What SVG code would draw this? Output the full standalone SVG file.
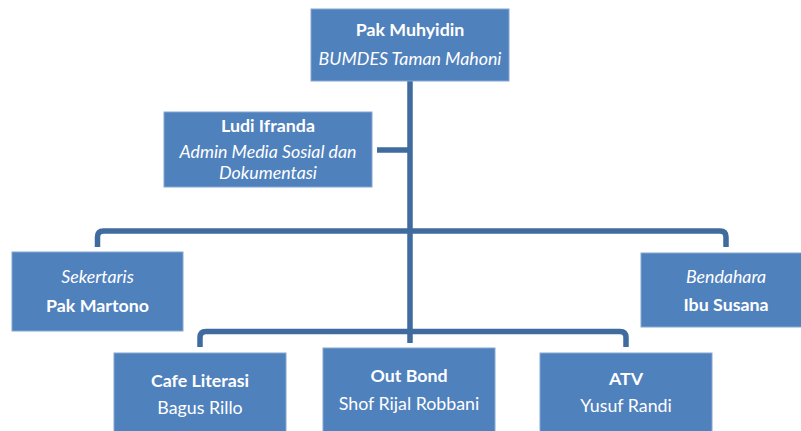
<svg xmlns="http://www.w3.org/2000/svg" width="801" height="431" viewBox="0 0 801 431">
<style>
.box{fill:#4F81BD;stroke:#86a7d2;stroke-width:1}
.t{font-family:Lato,"Liberation Sans",sans-serif;font-size:17.8px;fill:#ffffff;text-anchor:middle}
.b{font-weight:bold}
.i{font-style:italic}
.c{fill:none;stroke:#3F6B9E;stroke-width:5.5}
</style>
<rect width="801" height="431" fill="#ffffff"/>
<g id="connectors">
<path class="c" d="M410,81 V343"/>
<path class="c" d="M377,150 H410"/>
<path class="c" d="M97.5,247 V237 Q97.5,231 103.5,231 H720 Q726,231 726,237 V247"/>
<path class="c" d="M200,347 V337.5 Q200,331.5 206,331.5 H620 Q626,331.5 626,337.5 V347"/>
</g>
<g id="pak-muhyidin">
<rect class="box" x="311" y="9" width="198" height="72"/>
<text class="t b" x="410" y="36">Pak Muhyidin</text>
<text class="t i" x="410" y="65">BUMDES Taman Mahoni</text>
</g>
<g id="ludi-ifranda">
<rect class="box" x="164" y="112" width="208" height="75"/>
<text class="t b" x="268" y="132">Ludi Ifranda</text>
<text class="t i" x="268" y="158">Admin Media Sosial dan</text>
<text class="t i" x="268" y="179">Dokumentasi</text>
</g>
<g id="sekertaris">
<rect class="box" x="12" y="252" width="171" height="79"/>
<text class="t i" x="97.5" y="283">Sekertaris</text>
<text class="t b" x="97.5" y="312">Pak Martono</text>
</g>
<g id="bendahara">
<rect class="box" x="641" y="253" width="170" height="74"/>
<text class="t i" x="726" y="283">Bendahara</text>
<text class="t b" x="726" y="311">Ibu Susana</text>
</g>
<g id="cafe-literasi">
<rect class="box" x="114" y="353" width="172" height="85"/>
<text class="t b" x="200" y="387">Cafe Literasi</text>
<text class="t" x="200" y="414">Bagus Rillo</text>
</g>
<g id="out-bond">
<rect class="box" x="323" y="348" width="172" height="90"/>
<text class="t b" x="409" y="382">Out Bond</text>
<text class="t" x="409" y="410">Shof Rijal Robbani</text>
</g>
<g id="atv">
<rect class="box" x="540" y="353" width="172" height="85"/>
<text class="t b" x="626" y="385">ATV</text>
<text class="t" x="626" y="412">Yusuf Randi</text>
</g>
</svg>
